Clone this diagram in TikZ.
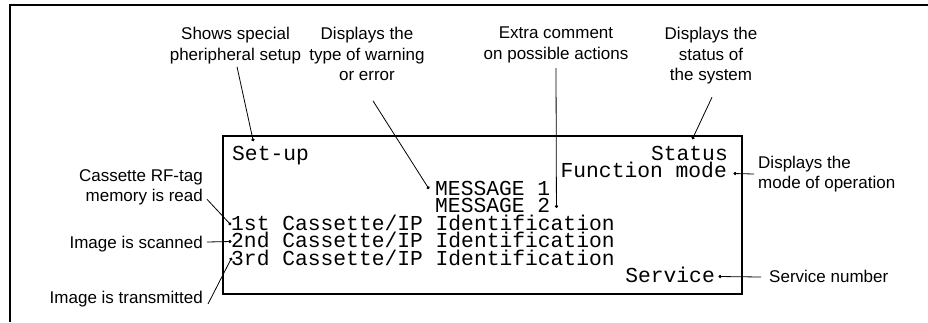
\documentclass[tikz,border=0pt]{standalone}
\usepackage{fontspec}
\setmainfont{Liberation Sans}
\newfontfamily\termfont{Liberation Mono}
\usetikzlibrary{arrows.meta,positioning}
\tikzset{
  callout/.style={font=\fontsize{17}{20.5}\selectfont, inner sep=0pt, align=center},
  termline/.style={font=\termfont\fontsize{21.3}{17.5}\selectfont,
    inner sep=0pt, text height=12pt, text depth=0pt},
  dotlead/.style={line width=0.8pt, -{Circle[length=3.2pt]}},
  termbox/.style={draw, line width=2.4pt},
  pageedge/.style={draw, line width=1.1pt}
}

\begin{document}
\begin{tikzpicture}[x=1pt,y=-1pt]
\useasboundingbox (0,0) rectangle (928,322);
\draw[pageedge] (928,5) -- (10,5) -- (10,322);
\draw[termbox] (223,136) rectangle (742,294);

% screen lines
\node[termline,anchor=west] (setup) at (232,154) {Set-up};
\node[termline,anchor=east] (status) at (728,154) {Status};
\node[termline,anchor=east] (fmode) at (727,171.5) {Function mode};
\node[termline,anchor=west] (msgone) at (435,189) {MESSAGE 1};
\node[termline,anchor=west] (msgtwo) at (435,206.5) {MESSAGE 2};
\node[termline,anchor=west] (first) at (231,224) {1st Cassette/IP Identification};
\node[termline,anchor=west] (second) at (231,241.5) {2nd Cassette/IP Identification};
\node[termline,anchor=west] (third) at (231,259) {3rd Cassette/IP Identification};
\node[termline,anchor=east] (service) at (715,276.5) {Service};

% callouts
\node[callout,anchor=north] (setuplbl) at (235.5,27) {Shows special\\pheripheral setup};
\node[callout,anchor=north] (warnlbl) at (367,27) {Displays the\\type of warning\\or error};
\node[callout,anchor=north] (extralbl) at (556,27) {Extra comment\\on possible actions};
\node[callout,anchor=north] (statlbl) at (711,27) {Displays the\\status of\\the system};
\node[callout,anchor=north east,align=right] (rflbl) at (203,169) {Cassette RF-tag\\memory is read};
\node[callout,anchor=base east] (scanlbl) at (203,248) {Image is scanned};
\node[callout,anchor=base east] (sentlbl) at (203,303) {Image is transmitted};
\node[callout,anchor=west,align=left] (modelbl) at (758,174) {Displays the\\mode of operation};
\node[callout,anchor=base west] (servlbl) at (769,282) {Service number};

\draw[dotlead] ([xshift=1.5pt,yshift=-3pt]setuplbl.south) -- ([xshift=21.3pt,yshift=6.5pt]setup.north west);
\draw[dotlead] ([xshift=6pt,yshift=-20pt]warnlbl.south) -- ([xshift=-6pt]msgone.west);
\draw[dotlead] ([yshift=-5pt]extralbl.south) -- ([xshift=6pt,yshift=-1.5pt]msgtwo.east);
\draw[dotlead] ([xshift=1pt,yshift=-13pt]statlbl.south) -- ([xshift=41.4pt,yshift=8.6pt]status.north west);
\draw[dotlead] ([xshift=-4pt]modelbl.west) -- ([xshift=6.5pt,yshift=-2pt]fmode.east);
\draw[dotlead] ([xshift=-8pt,yshift=5pt]servlbl.base west) -- ([xshift=3.5pt]service.east);
\draw[dotlead] ([xshift=4pt,yshift=6pt]rflbl.south east) -- ([yshift=-1pt]first.west);
\draw[dotlead] ([xshift=4pt,yshift=6pt]scanlbl.base east) -- ([xshift=0.5pt]second.west);
\draw[dotlead] ([xshift=5pt,yshift=-1pt]sentlbl.base east) -- ([xshift=0.7pt,yshift=1.3pt]third.west);
\end{tikzpicture}
\end{document}
